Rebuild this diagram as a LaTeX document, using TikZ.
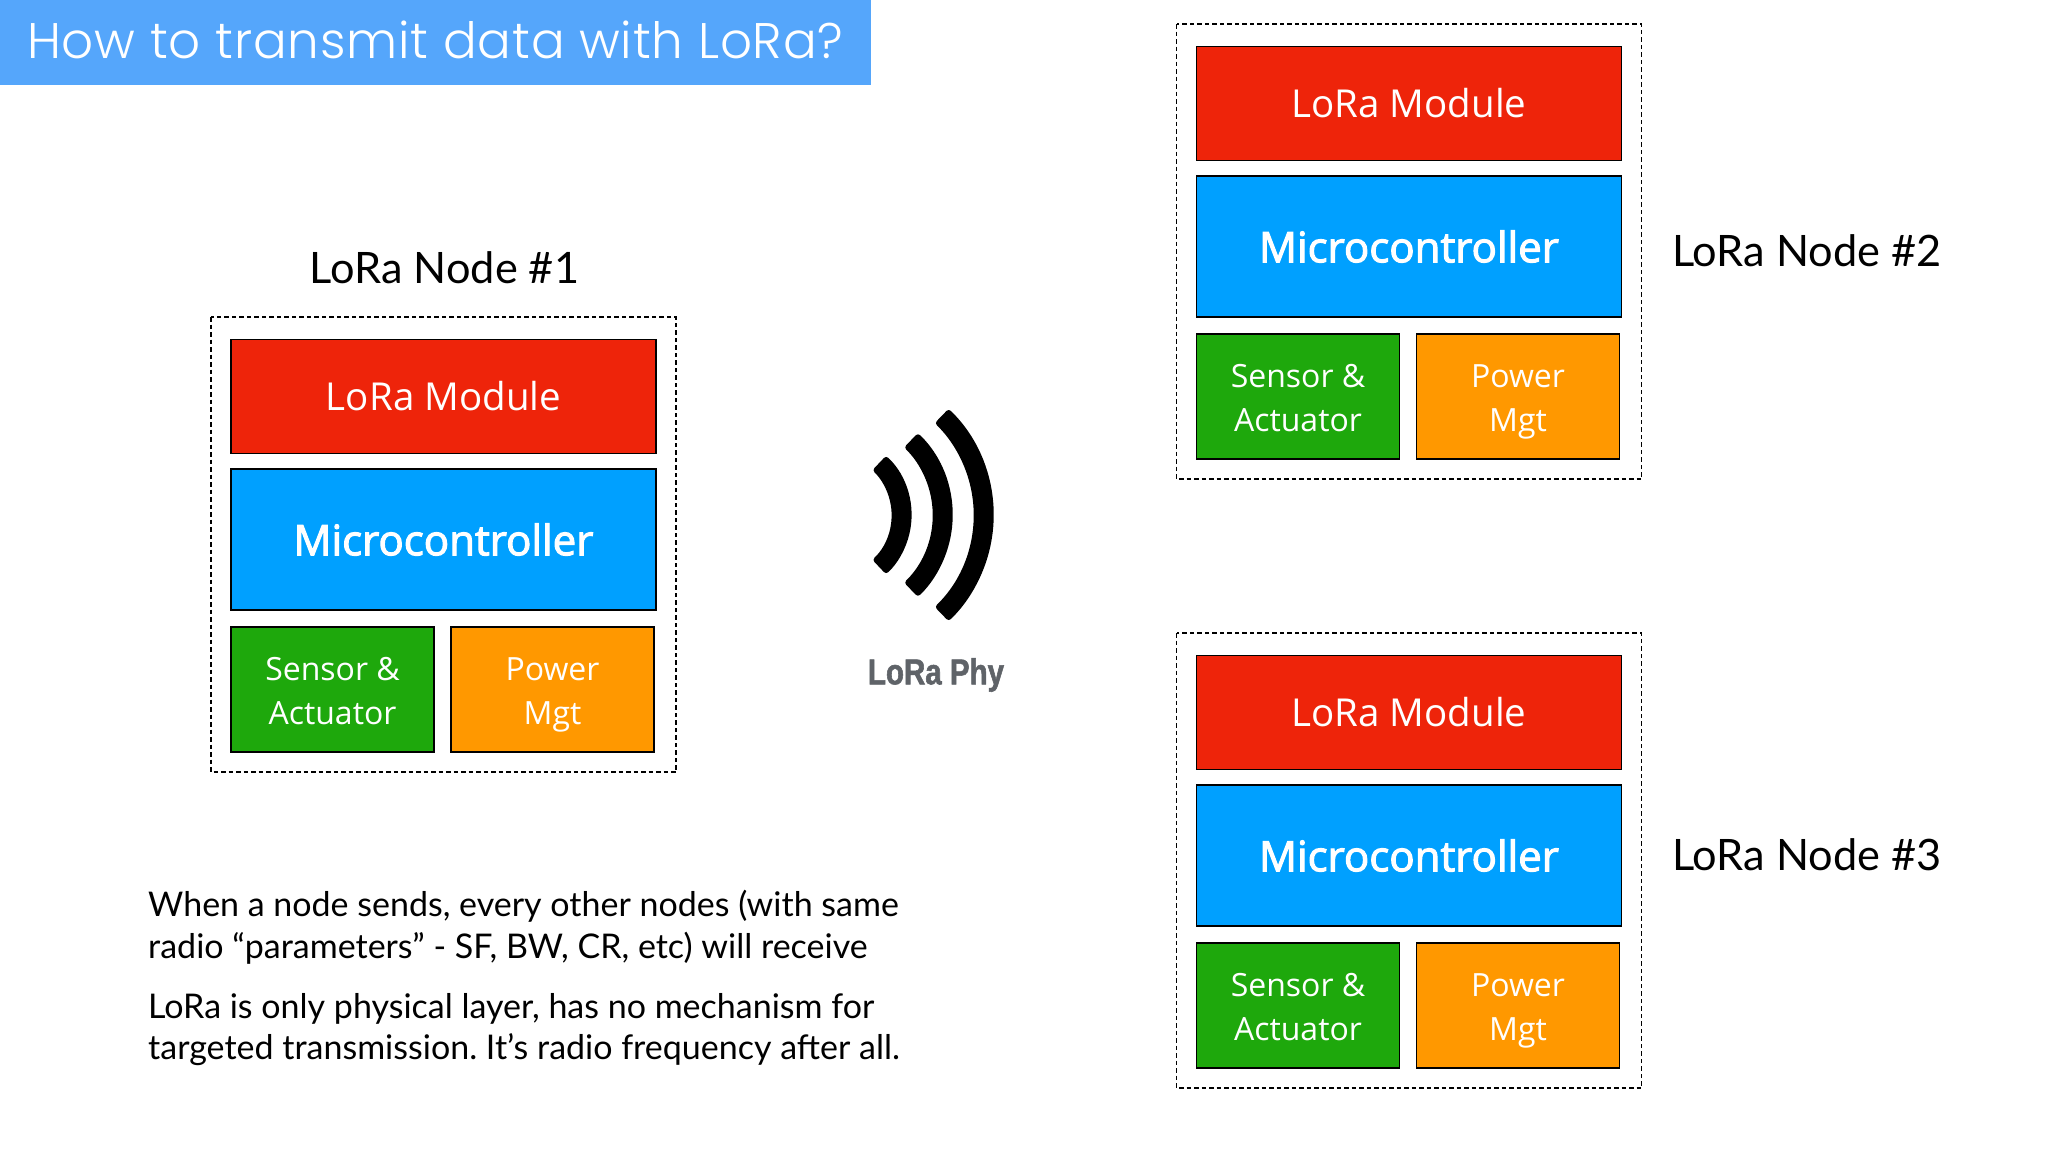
\documentclass[tikz,border=0pt]{standalone}
\usepackage{fontspec}
\setmainfont{Open Sans}
\newfontfamily\titlefont[LetterSpace=1.7]{Poppins Light}
\newfontfamily\labelfont{Lato}
\newfontfamily\mcufont[FakeBold=2.5]{Open Sans}
\newfontfamily\phyfont[FakeStretch=0.82,FakeBold=1.5]{Liberation Sans Bold}
\definecolor{redbox}{HTML}{EE240A}
\definecolor{bluebox}{HTML}{00A0FF}
\definecolor{greenbox}{HTML}{1EA80C}
\definecolor{orangebox}{HTML}{FF9800}
\definecolor{titleblue}{HTML}{55A6FB}
\definecolor{phygray}{HTML}{5F6368}
\newcommand{\fs}[1]{\fontsize{#1}{#1}\selectfont}
\newcommand{\twolines}[2]{\rule{0pt}{35.8pt}#1\\[12pt]\strut #2}
\tikzset{
 x=1pt,y=-1pt,
 cell/.style={draw=black,line width=1.8pt,text=white,inner sep=0pt,align=center},
 frame/.style={draw=black,line width=1.8pt,dash pattern=on 4.5pt off 3pt},
 modulebox/.style={cell,fill=redbox,minimum width=425pt,minimum height=114pt,font=\fs{38.5}},
 mcubox/.style={cell,fill=bluebox,minimum width=425pt,minimum height=141pt,font=\mcufont\fs{42}},
 smallbox/.style={cell,minimum width=203pt,minimum height=125pt,font=\fs{32}},
 nodelabel/.style={font=\labelfont\fs{43.3},text=black,inner sep=0pt},
 bodytext/.style={font=\labelfont\fs{34},text=black,inner sep=0pt,anchor=west},
 wave/.style={fill=black,rounded corners=3pt},
}
\newcommand{\lorablock}[3]{% name, dx, dy
 \begin{scope}[shift={(#2,#3)}]
 \draw[frame] (211,317) rectangle (676,772);
 \node[modulebox] (#1mod) at (443.5,396.5) {LoRa Module};
 \node[mcubox] (#1mcu) at (443.5,539.5) {Microcontroller};
 \node[smallbox,fill=greenbox] (#1sen) at (332.5,689.5) {\twolines{Sensor \&}{Actuator}};
 \node[smallbox,fill=orangebox] (#1pow) at (552.5,689.5) {\twolines{Power}{Mgt}};
 \end{scope}}
\newcommand{\radioarc}[3]{% cx, R, half angle
 \fill[wave] ({#1+(#2+10)*cos(#3)},{515-(#2+10)*sin(#3)}) arc[start angle=#3,end angle=-#3,radius=#2+10,y radius=-(#2+10)]
 -- ({#1+(#2-10)*cos(#3)},{515+(#2-10)*sin(#3)}) arc[start angle=-#3,end angle=#3,radius=#2-10,y radius=-(#2-10)] -- cycle;}
\begin{document}
\frenchspacing
\begin{tikzpicture}
\useasboundingbox (0,0) rectangle (2048,1152);
\fill[white] (0,0) rectangle (2048,1152);
\node[fill=titleblue,minimum width=871pt,minimum height=85pt,anchor=north west,inner sep=0pt] (banner) at (0,0) {};
\node[font=\titlefont\fs{50},text=white,anchor=west,inner sep=0pt] (title) at (27,40) {How to transmit data with LoRa?};
\lorablock{a}{0}{0}
\lorablock{b}{965.5}{-293}
\lorablock{c}{965.5}{316}
\node[nodelabel] (la) at (444.5,268) {LoRa Node \#1};
\node[nodelabel,anchor=west] (lb) at (1672,251) {LoRa Node \#2};
\node[nodelabel,anchor=west] (lc) at (1672,855) {LoRa Node \#3};
\radioarc{830}{71.6}{46.6}
\radioarc{838.8}{103.9}{46}
\radioarc{846}{137.7}{46}
\node[font=\phyfont\fs{36},text=phygray,inner sep=0pt] (phy) at (936,675) {LoRa Phy};
\node[bodytext] (t1) at (148,906) {When a node sends, every other nodes (with same};
\node[bodytext] (t2) at (148,948) {radio “parameters” - SF, BW, CR, etc) will receive};
\node[bodytext] (t3) at (148,1009) {LoRa is only physical layer, has no mechanism for};
\node[bodytext] (t4) at (148,1050) {targeted transmission. It’s radio frequency after all.};
\end{tikzpicture}
\end{document}
